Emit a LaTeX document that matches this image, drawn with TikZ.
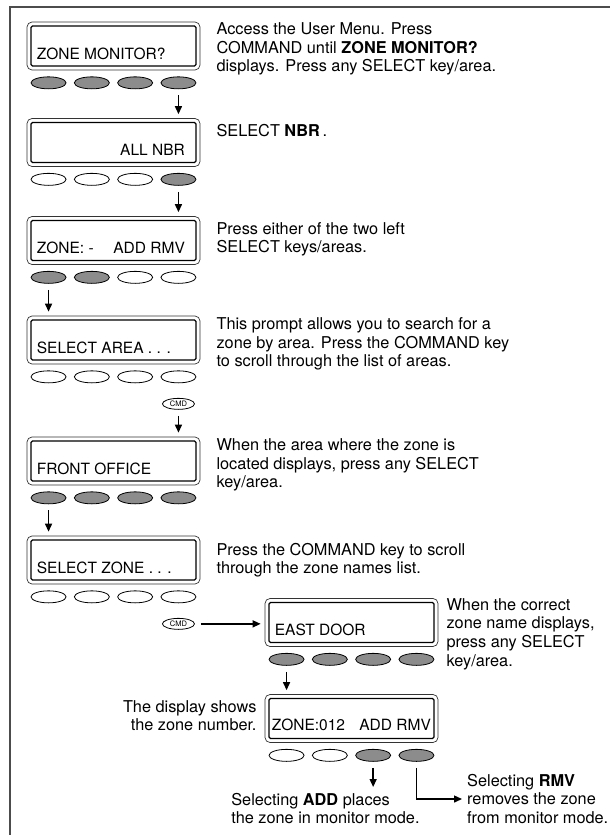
\documentclass[tikz,border=0pt]{standalone}
\usepackage{fontspec}
\setmainfont{TeX Gyre Heros}
\usetikzlibrary{shapes.geometric,arrows.meta}
\definecolor{keygray}{gray}{0.55}
\definecolor{framegray}{gray}{0.3}
\newcommand{\descfont}{\fontsize{16.3}{18.6}\selectfont}
\newcommand{\lcdfont}{\fontsize{15.5}{18}\selectfont}
\newcommand{\cmdfont}{\fontsize{7.5}{8}\selectfont}

\begin{document}
\begin{tikzpicture}[x=1pt,y=-1pt,>={Triangle[length=8pt,width=7pt]},
  lcd/.style={draw=black!80,line width=0.7pt,rounded corners=5pt,
    minimum width=173pt,minimum height=48pt,inner sep=0pt,
    path picture={\draw[black,line width=1.3pt,rounded corners=1.5pt]
      ([shift={(4pt,4pt)}]path picture bounding box.south west) rectangle
      ([shift={(-4pt,-4pt)}]path picture bounding box.north east);}},
  lcdtext/.style={anchor=base west,inner sep=0pt,font=\lcdfont},
  key/.style={ellipse,draw,line width=0.8pt,minimum width=35pt,minimum height=12pt,inner sep=0pt},
  keyon/.style={fill=keygray},
  keyoff/.style={fill=white},
  cmd/.style={ellipse,draw,line width=0.8pt,fill=white,minimum width=32pt,
    minimum height=11pt,inner sep=0pt,font=\cmdfont},
  desc/.style={anchor=north west,inner sep=0pt,align=left,font=\descfont},
  flow/.style={->,line width=1.4pt,shorten <=6pt,shorten >=4pt}]
  \useasboundingbox (0,0) rectangle (610,835);
  \draw[framegray,line width=1.5pt] (10,835) -- (10,7) -- (610,7);

  % displays
  \node[lcd] (d1) at (113.5,46) {};
  \node[lcd] (d2) at (113.5,142.5) {};
  \node[lcd] (d3) at (113.5,240.5) {};
  \node[lcd] (d4) at (113.5,340) {};
  \node[lcd] (d5) at (113.5,461) {};
  \node[lcd] (d6) at (113.5,560) {};
  \node[lcd] (d7) at (351.5,622.5) {};
  \node[lcd] (d8) at (351.5,718.5) {};

  \node[lcdtext] (d1t) at ([shift={(10pt,11pt)}]d1.south west) {ZONE MONITOR?};
  \node[lcdtext] (d2t) at ([shift={(10pt,11pt)}]d2.south west) {\makebox[148pt][r]{ALL NBR}};
  \node[lcdtext] (d3t) at ([shift={(10pt,11pt)}]d3.south west) {\makebox[148pt][s]{ZONE: -\hfill ADD RMV}};
  \node[lcdtext] (d4t) at ([shift={(10pt,11pt)}]d4.south west) {SELECT AREA . . .};
  \node[lcdtext] (d5t) at ([shift={(10pt,11pt)}]d5.south west) {FRONT OFFICE};
  \node[lcdtext] (d6t) at ([shift={(10pt,11pt)}]d6.south west) {SELECT ZONE . . .};
  \node[lcdtext] (d7t) at ([shift={(10pt,11pt)}]d7.south west) {EAST DOOR};
  \node[lcdtext] (d8t) at ([shift={(7pt,12pt)}]d8.south west) {\makebox[159pt][s]{ZONE:012\hfill ADD RMV}};

  % select keys
  \foreach \s [count=\i] in {keyon,keyon,keyon,keyon}
    \node[key,\s] (d1k\i) at ([xshift={(\i-2.5)*43.3pt},yshift=-12.5pt]d1.south) {};
  \foreach \s [count=\i] in {keyoff,keyoff,keyoff,keyon}
    \node[key,\s] (d2k\i) at ([xshift={(\i-2.5)*43.3pt},yshift=-12.5pt]d2.south) {};
  \foreach \s [count=\i] in {keyon,keyon,keyoff,keyoff}
    \node[key,\s] (d3k\i) at ([xshift={(\i-2.5)*43.3pt},yshift=-12.5pt]d3.south) {};
  \foreach \s [count=\i] in {keyoff,keyoff,keyoff,keyoff}
    \node[key,\s] (d4k\i) at ([xshift={(\i-2.5)*43.3pt},yshift=-12.5pt]d4.south) {};
  \foreach \s [count=\i] in {keyon,keyon,keyon,keyon}
    \node[key,\s] (d5k\i) at ([xshift={(\i-2.5)*43.3pt},yshift=-12.5pt]d5.south) {};
  \foreach \s [count=\i] in {keyoff,keyoff,keyoff,keyoff}
    \node[key,\s] (d6k\i) at ([xshift={(\i-2.5)*43.3pt},yshift=-12.5pt]d6.south) {};
  \foreach \s [count=\i] in {keyon,keyon,keyon,keyon}
    \node[key,\s] (d7k\i) at ([xshift={(\i-2.5)*43.3pt},yshift=-12.5pt]d7.south) {};
  \foreach \s [count=\i] in {keyoff,keyoff,keyon,keyon}
    \node[key,\s] (d8k\i) at ([xshift={(\i-2.5)*43.3pt},yshift=-12.5pt]d8.south) {};

  \node[cmd] (c4) at ([yshift=-27pt]d4k4.center) {CMD};
  \node[cmd] (c6) at ([yshift=-27pt]d6k4.center) {CMD};

  % steps
  \draw[flow] (d1k4.south) -- (d1k4.south |- d2.north);
  \draw[flow] (d2k4.south) -- (d2k4.south |- d3.north);
  \draw[flow] (d3k1.south) -- (d3k1.south |- d4.north);
  \draw[flow] (c4.south) -- (c4.south |- d5.north);
  \draw[flow] (d5k1.south) -- (d5k1.south |- d6.north);
  \draw[flow] (c6.east) -- (c6.east -| d7.west);
  \draw[flow] (d7k1.south) -- (d7k1.south |- d8.north);
  \coordinate (addend) at (d8k3.south |- 0,791);
  \coordinate (rmvend) at (466,799);
  \draw[flow] (d8k3.south) -- (addend);
  \draw[flow] (d8k4.south) |- (rmvend);

  % explanations
  \node[desc] (t1) at ([shift={(16pt,-1pt)}]d1.north east)
    {Access the User Menu. Press\\COMMAND until \textbf{ZONE MONITOR?}\\displays. Press any SELECT key/area.};
  \node[desc] (t2) at ([shift={(16pt,-6pt)}]d2.north east) {SELECT \textbf{NBR}\,.};
  \node[desc] (t3) at ([shift={(16pt,-6pt)}]d3.north east)
    {Press either of the two left\\SELECT keys/areas.};
  \node[desc] (t4) at ([shift={(16pt,-2pt)}]d4.north east)
    {This prompt allows you to search for a\\zone by area. Press the COMMAND key\\to scroll through the list of areas.};
  \node[desc] (t5) at ([shift={(16pt,-2pt)}]d5.north east)
    {When the area where the zone is\\located displays, press any SELECT\\key/area.};
  \node[desc] (t6) at ([shift={(16pt,-7pt)}]d6.north east)
    {Press the COMMAND key to scroll\\through the zone names list.};
  \node[desc] (t7) at ([shift={(8pt,0pt)}]d7.north east)
    {When the correct\\zone name displays,\\press any SELECT\\key/area.};
  \node[desc,anchor=north east,align=right] (t8) at ([shift={(-8pt,-6pt)}]d8.north west)
    {The display shows\\the zone number.};
  \node[desc] (t9) at ([shift={(-142pt,-2pt)}]addend)
    {Selecting \textbf{ADD} places\\the zone in monitor mode.};
  \node[desc,anchor=west] (t10) at ([xshift=1pt]rmvend)
    {Selecting \textbf{RMV}\\removes the zone\\from monitor mode.};
\end{tikzpicture}
\end{document}
